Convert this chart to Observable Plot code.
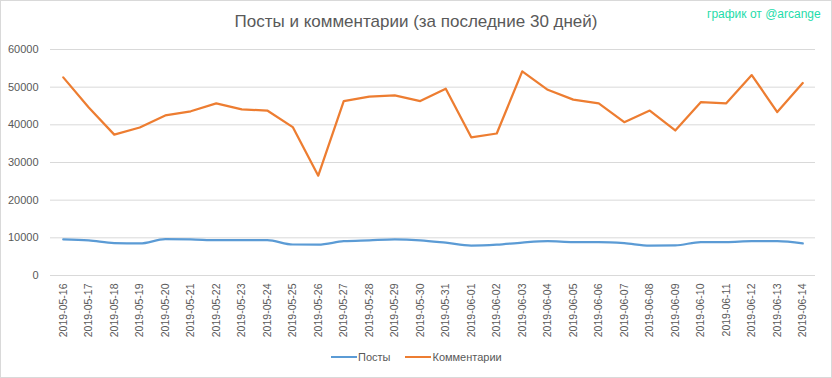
<!DOCTYPE html>
<html>
<head>
<meta charset="utf-8">
<script src="https://cdn.jsdelivr.net/npm/d3@7"></script>
<script src="https://cdn.jsdelivr.net/npm/@observablehq/plot@0.6"></script>
<style>
  html, body { margin: 0; padding: 0; background: #fff; }
  #wrap { position: relative; width: 832px; height: 378px; font-family: "Liberation Sans", Arial, sans-serif; }
  #border { position: absolute; left: 0; top: 0; width: 830px; height: 376px; border: 1px solid #d9d9d9; pointer-events: none; }
  #title { position: absolute; left: 0; width: 832px; top: 12px; text-align: center; font-size: 17px; color: #595959; }
  #credit { position: absolute; left: 707px; top: 7px; font-size: 12px; color: #1fdcaa; white-space: nowrap; }
  #legend { position: absolute; top: 351px; left: 331px; font-size: 11px; color: #595959; display: flex; align-items: center; white-space: nowrap; }
  .sw { display: inline-block; width: 26px; height: 2px; margin-right: 1px; }
  svg { position: absolute; left: 0; top: 0; }
</style>
</head>
<body>
<div id="wrap">
  <div id="chart"></div>
  <div id="title">Посты и комментарии (за последние 30 дней)</div>
  <div id="credit">график от @arcange</div>
  <div id="legend">
    <span class="sw" style="background:#5b9bd5"></span><span>Посты</span>
    <span class="sw" style="background:#ed7d31; margin-left:15px"></span><span>Комментарии</span>
  </div>
  <div id="border"></div>
</div>
<script>
const dates = ["2019-05-16","2019-05-17","2019-05-18","2019-05-19","2019-05-20","2019-05-21","2019-05-22","2019-05-23","2019-05-24","2019-05-25","2019-05-26","2019-05-27","2019-05-28","2019-05-29","2019-05-30","2019-05-31","2019-06-01","2019-06-02","2019-06-03","2019-06-04","2019-06-05","2019-06-06","2019-06-07","2019-06-08","2019-06-09","2019-06-10","2019-06-11","2019-06-12","2019-06-13","2019-06-14"];
const posts = [9560,9300,8580,8500,9640,9600,9370,9400,9400,8230,8200,9100,9350,9600,9350,8700,7960,8200,8750,9100,8850,8850,8580,7960,8000,8850,8850,9100,9100,8500];
const comments = [52600,44600,37400,39300,42500,43600,45700,44100,43800,39400,26500,46300,47500,47800,46300,49600,36700,37700,54200,49300,46700,45700,40700,43800,38500,46000,45700,53200,43400,51100];
const yTicks = [0,10000,20000,30000,40000,50000,60000];

const postsData = dates.map((d, i) => ({date: d, value: posts[i]}));
const commentsData = dates.map((d, i) => ({date: d, value: comments[i]}));

const chart = Plot.plot({
  width: 832,
  height: 378,
  marginLeft: 50,
  marginRight: 17,
  marginTop: 49,
  marginBottom: 103,
  style: {fontFamily: "Liberation Sans, Arial, sans-serif", fontSize: "11px", color: "#595959", background: "transparent"},
  x: {type: "point", domain: dates, padding: 0.5, round: false, label: null},
  y: {domain: [0, 60000], label: null},
  marks: [
    Plot.gridY(yTicks, {stroke: "#d9d9d9", strokeOpacity: 1, strokeWidth: 1}),
    Plot.axisY(yTicks, {tickSize: 0, tickPadding: 12, tickFormat: d => String(d), fontSize: 11, fill: "#595959"}),
    Plot.axisX({tickSize: 0, tickPadding: 8, tickRotate: -90, fontSize: 10.5, fill: "#595959", label: null}),
    Plot.line(postsData, {x: "date", y: "value", stroke: "#5b9bd5", strokeWidth: 2.25, curve: "monotone-x"}),
    Plot.line(commentsData, {x: "date", y: "value", stroke: "#ed7d31", strokeWidth: 2.25})
  ]
});
document.getElementById("chart").appendChild(chart);
</script>
</body>
</html>
